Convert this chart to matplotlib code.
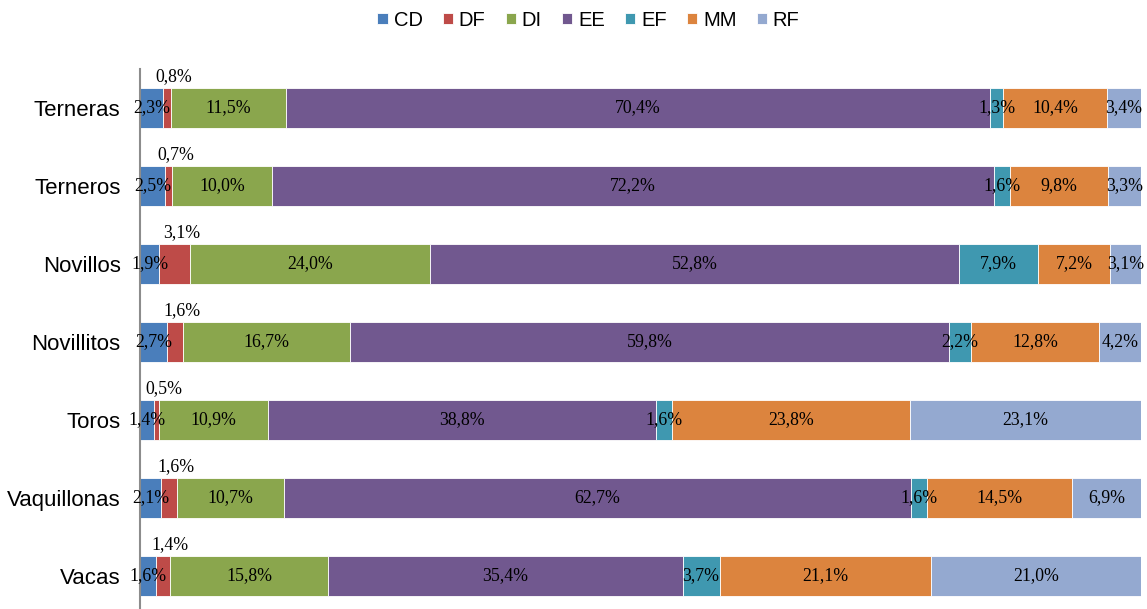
import matplotlib.pyplot as plt
import numpy as np

categorias = ["Terneras", "Terneros", "Novillos", "Novillitos", "Toros", "Vaquillonas", "Vacas"]
series = ["CD", "DF", "DI", "EE", "EF", "MM", "RF"]
CD = [2.3, 2.5, 1.9, 2.7, 1.4, 2.1, 1.6]
DF = [0.8, 0.7, 3.1, 1.6, 0.5, 1.6, 1.4]
DI = [11.5, 10.0, 24.0, 16.7, 10.9, 10.7, 15.8]
EE = [70.4, 72.2, 52.8, 59.8, 38.8, 62.7, 35.4]
EF = [1.3, 1.6, 7.9, 2.2, 1.6, 1.6, 3.7]
MM = [10.4, 9.8, 7.2, 12.8, 23.8, 14.5, 21.1]
RF = [3.4, 3.3, 3.1, 4.2, 23.1, 6.9, 21.0]
colores = ["#4A7EBB", "#BE4B48", "#8AA64D", "#71588F", "#3F98B0", "#DC843E", "#94A9D0"]

datos = np.array([CD, DF, DI, EE, EF, MM, RF])
totales = datos.sum(axis=0)
pct = datos / totales * 100  # barras 100% apiladas

fig = plt.figure(figsize=(11.47, 6.09), dpi=100)
ax = fig.add_axes([140 / 1147, -6 / 609, 1001 / 1147, 546 / 609])

y = np.arange(len(categorias))
izq = np.zeros(len(categorias))
fuente_etq = dict(family="Liberation Serif", fontsize=12.8, color="black")

for i, nombre in enumerate(series):
    ax.barh(y, pct[i], left=izq, height=0.51, color=colores[i],
            edgecolor="white", linewidth=0.6, label=nombre)
    for j in range(len(categorias)):
        txt = f"{datos[i][j]:.1f}%".replace(".", ",")
        cx = izq[j] + pct[i][j] / 2
        if nombre == "DF":
            # etiqueta de DF encima de la barra
            ax.annotate(txt, (cx, y[j] - 0.255), xytext=(5, 8), textcoords="offset points",
                        ha="center", va="center", **fuente_etq)
        else:
            ax.text(cx, y[j], txt, ha="center", va="center", **fuente_etq)
    izq += pct[i]

ax.set_xlim(0, 100)
ax.set_ylim(len(categorias) - 0.5, -0.5)
ax.set_yticks(y)
ax.set_yticklabels(categorias, family="Liberation Sans", fontsize=16)
ax.tick_params(axis="y", length=0, pad=14)
ax.set_xticks([])
for s in ["top", "right", "bottom"]:
    ax.spines[s].set_visible(False)
ax.spines["left"].set_color("#8C8C8C")
ax.spines["left"].set_linewidth(1.5)

fig.legend(loc="center", bbox_to_anchor=(0.5 + 15 / 1147, 1 - 20 / 609), ncol=7, frameon=False,
           prop={"family": "Liberation Sans", "size": 14.5}, handlelength=0.5,
           handleheight=0.5, handletextpad=0.3, columnspacing=1.0)

fig.savefig("out.png", dpi=100)
